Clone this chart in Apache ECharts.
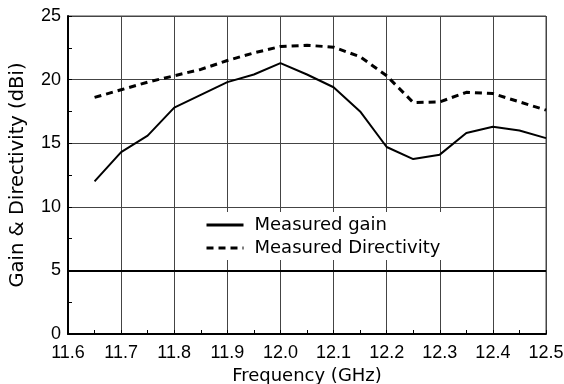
<!DOCTYPE html>
<html><head><meta charset="utf-8">
<script src="https://cdn.jsdelivr.net/npm/echarts@6/dist/echarts.min.js"></script>
<style>html,body{margin:0;padding:0;background:#fff}#c{width:564px;height:384px}</style>
</head><body><div id="c"></div>
<script>
var freq = [11.65,11.70,11.75,11.80,11.85,11.90,11.95,12.00,12.05,12.10,12.15,12.20,12.25,12.30,12.35,12.40,12.45,12.50];
var gain = [12.0,14.3,15.6,17.8,18.8,19.8,20.4,21.3,20.4,19.4,17.5,14.7,13.75,14.1,15.8,16.3,16.0,15.4];
var directivity = [18.6,19.2,19.8,20.3,20.8,21.5,22.1,22.6,22.7,22.55,21.8,20.3,18.2,18.25,19.0,18.9,18.25,17.6];
var seriesNames = ['Measured gain','Measured Directivity'];
var refLevel = 5;

function pairs(xs, ys){ return xs.map(function(x,i){ return [x, ys[i]]; }); }
var font = 'Liberation Sans, Arial, sans-serif';
var wide = 'DejaVu Sans, sans-serif';
var chart = echarts.init(document.getElementById('c'), null, {renderer:'canvas'});
chart.setOption({
  animation:false,
  grid:{left:68, right:18, top:16, bottom:50, show:true, borderColor:'#444', borderWidth:1,
        containLabel:false, outerBoundsMode:'none'},
  legend:{
    data:seriesNames, orient:'vertical', left:200, top:212,
    backgroundColor:'#fff', padding:[4,6,3,5], itemGap:5,
    itemWidth:37, itemHeight:14,
    itemStyle:{color:'transparent', borderColor:'transparent', borderWidth:0},
    lineStyle:{width:3},
    textStyle:{fontFamily:wide, fontSize:18, color:'#000', lineHeight:18, padding:[0,0,0,6]}
  },
  xAxis:{
    type:'value', min:11.6, max:12.5, interval:0.1,
    name:'Frequency (GHz)', nameLocation:'middle', nameGap:30,
    nameTextStyle:{fontFamily:wide, fontSize:18, color:'#000'},
    axisLine:{lineStyle:{color:'#000', width:2}},
    axisTick:{show:true, inside:true, length:4, lineStyle:{color:'#000'}},
    minorTick:{show:true, splitNumber:2, length:4, lineStyle:{color:'#000'}},
    axisLabel:{fontFamily:font, fontSize:18, color:'#000', margin:10, formatter:function(v){return v.toFixed(1);}},
    splitLine:{show:true, lineStyle:{color:'#444', width:1}}
  },
  yAxis:{
    type:'value', min:0, max:25, interval:5,
    name:'Gain & Directivity (dBi)', nameLocation:'middle', nameGap:40,
    nameTextStyle:{fontFamily:wide, fontSize:19.5, color:'#000'},
    axisLine:{lineStyle:{color:'#000', width:2}},
    axisTick:{show:true, inside:true, length:4, lineStyle:{color:'#000'}},
    minorTick:{show:true, splitNumber:2, length:4, lineStyle:{color:'#000'}},
    axisLabel:{fontFamily:font, fontSize:18, color:'#000', margin:7},
    splitLine:{show:true, lineStyle:{color:'#444', width:1}}
  },
  series:[
    {name:seriesNames[0], type:'line', data:pairs(freq,gain), symbol:'none',
     lineStyle:{color:'#000', width:2, type:'solid'}, itemStyle:{color:'#000'},
     markLine:{silent:true, symbol:'none', label:{show:false},
       lineStyle:{color:'#000', width:2, type:'solid'}, data:[{yAxis:refLevel}]}},
    {name:seriesNames[1], type:'line', data:pairs(freq,directivity), symbol:'none',
     lineStyle:{color:'#000', width:3, type:[7,5]}, itemStyle:{color:'#000'}}
  ]
});
</script></body></html>
